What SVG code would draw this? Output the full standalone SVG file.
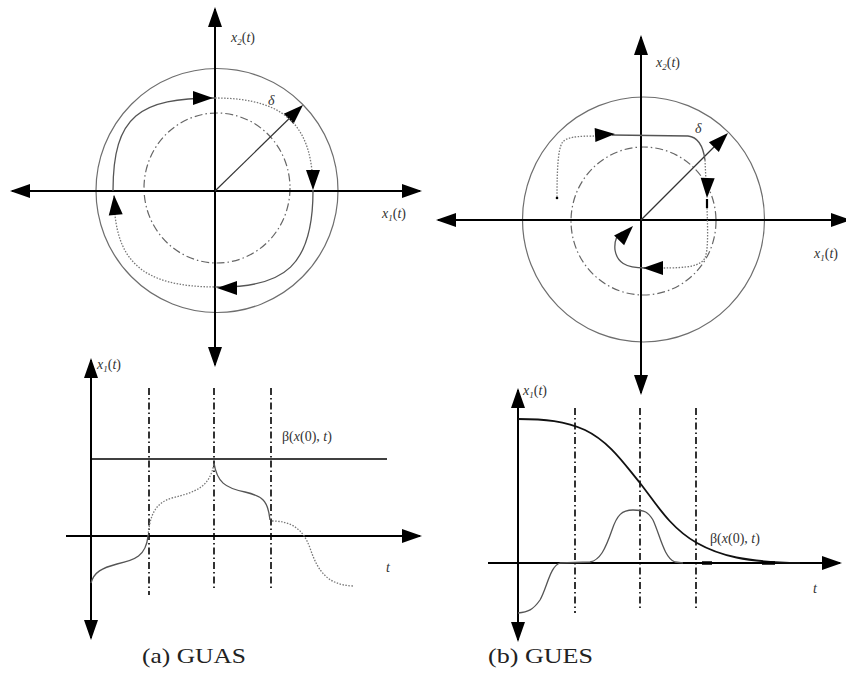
<svg xmlns="http://www.w3.org/2000/svg" width="846" height="694" viewBox="0 0 846 694">
<defs>
<marker id="ax" viewBox="0 0 20 14" refX="18" refY="7" markerWidth="20" markerHeight="14" markerUnits="userSpaceOnUse" orient="auto-start-reverse"><path d="M0,0 L20,7 L0,14 Z" fill="#000"/></marker>
<path id="ah" d="M0,0 L-20,-7 L-20,7 Z" fill="#000"/>
</defs>
<style>
.axis{stroke:#000;stroke-width:2;fill:none}
.circ{stroke:#6e6e6e;stroke-width:1.2;fill:none}
.dd{stroke:#666;stroke-width:1.2;fill:none;stroke-dasharray:8 3 1.5 3}
.vdd{stroke:#000;stroke-width:1.6;fill:none;stroke-dasharray:7 3 1.5 3}
.sol{stroke:#555;stroke-width:1.3;fill:none}
.dot{stroke:#777;stroke-width:1.3;fill:none;stroke-dasharray:1.5 1.5}
.rad{stroke:#333;stroke-width:1.2;fill:none}
.m{font-style:italic;font-size:14px;fill:#333}
.cap{font-size:21px;fill:#222}
</style>
<rect width="846" height="694" fill="#fff"/>

<g id="phase-a">
<ellipse class="circ" cx="217" cy="190.5" rx="121" ry="122"/>
<ellipse class="dd" cx="217" cy="188" rx="73" ry="75"/>
<line class="axis" x1="215" y1="365" x2="215" y2="9" marker-start="url(#ax)" marker-end="url(#ax)"/>
<line class="axis" x1="12" y1="191" x2="420" y2="191" marker-start="url(#ax)" marker-end="url(#ax)"/>
<line class="rad" x1="215" y1="191" x2="300" y2="108"/>
<use href="#ah" transform="translate(303,105) rotate(-44)"/>
<path class="sol" d="M113,191 C113,115 140,98 215,98"/>
<path class="dot" d="M215,98 C290,98 313,130 313,191"/>
<path class="sol" d="M313,191 C313,265 285,288 217,287"/>
<path class="dot" d="M217,287 C140,287 114,260 114,195"/>
<use href="#ah" transform="translate(213,98)"/>
<use href="#ah" transform="translate(313,190) rotate(90)"/>
<use href="#ah" transform="translate(217,288) rotate(180)"/>
<use href="#ah" transform="translate(114,195) rotate(-95)"/>
<text class="m" font-family="'Liberation Serif','DejaVu Serif',serif" x="231" y="42">x<tspan font-size="9" dy="3">2</tspan><tspan dy="-3" font-style="normal">(</tspan>t<tspan font-style="normal">)</tspan></text>
<text class="m" font-family="'Liberation Serif','DejaVu Serif',serif" x="382" y="218">x<tspan font-size="9" dy="3">1</tspan><tspan dy="-3" font-style="normal">(</tspan>t<tspan font-style="normal">)</tspan></text>
<text class="m" font-family="'Liberation Serif','DejaVu Serif',serif" x="268" y="105" font-style="normal">δ</text>
</g>

<g id="phase-b">
<ellipse class="circ" cx="643.5" cy="219.5" rx="121" ry="122.5"/>
<ellipse class="dd" cx="643.5" cy="221" rx="72.5" ry="74"/>
<line class="axis" x1="641" y1="393" x2="641" y2="37" marker-start="url(#ax)" marker-end="url(#ax)"/>
<line class="axis" x1="438" y1="220" x2="849" y2="220" marker-start="url(#ax)" marker-end="url(#ax)"/>
<line class="rad" x1="641" y1="220" x2="725" y2="136"/>
<use href="#ah" transform="translate(728,133) rotate(-45)"/>
<circle cx="557" cy="198" r="1.3" fill="#000"/>
<path class="dot" d="M557,197 C557,170 558,150 562,143 C566,137 575,136 600,136"/>
<path class="sol" d="M612,135 L688,136 C698,137 703,145 705,160"/>
<path class="dot" d="M705,160 L706,182"/>
<line x1="707" y1="199" x2="707" y2="208" stroke="#000" stroke-width="2.2"/>
<path class="dot" d="M707,208 C708,235 708,250 705,258 C700,266 690,268 660,268"/>
<path class="sol" d="M645,268 C625,268 617,262 615,250 C614,240 617,235 622,232"/>
<use href="#ah" transform="translate(615,134) rotate(-3)"/>
<use href="#ah" transform="translate(707,198) rotate(92)"/>
<use href="#ah" transform="translate(643,268) rotate(180)"/>
<use href="#ah" transform="translate(633,226) rotate(-46)"/>
<text class="m" font-family="'Liberation Serif','DejaVu Serif',serif" x="656" y="67">x<tspan font-size="9" dy="3">2</tspan><tspan dy="-3" font-style="normal">(</tspan>t<tspan font-style="normal">)</tspan></text>
<text class="m" font-family="'Liberation Serif','DejaVu Serif',serif" x="814" y="258">x<tspan font-size="9" dy="3">1</tspan><tspan dy="-3" font-style="normal">(</tspan>t<tspan font-style="normal">)</tspan></text>
<text class="m" font-family="'Liberation Serif','DejaVu Serif',serif" x="695" y="133" font-style="normal">δ</text>
</g>

<g id="time-a">
<line class="axis" x1="91" y1="638" x2="91" y2="360" marker-start="url(#ax)" marker-end="url(#ax)"/>
<line class="axis" x1="66" y1="536" x2="420" y2="536" marker-end="url(#ax)"/>
<line x1="91" y1="459" x2="387" y2="459" stroke="#000" stroke-width="1.5"/>
<line class="vdd" x1="149" y1="388" x2="149" y2="595"/>
<line class="vdd" x1="214" y1="388" x2="214" y2="588"/>
<line class="vdd" x1="271" y1="388" x2="271" y2="588"/>
<path class="sol" d="M91,583 C94,572 102,568 117,564 C135,560 146,556 148,536"/>
<path class="dot" d="M148,536 C150,515 155,503 172,498 C195,492 210,488 214,463"/>
<path class="sol" d="M214,463 C217,482 225,488 245,492 C262,496 268,500 270,520"/>
<path class="dot" d="M272,521 C290,521 303,528 310,548 C318,572 328,585 353,586"/>
<text class="m" font-family="'Liberation Serif','DejaVu Serif',serif" x="97" y="369">x<tspan font-size="9" dy="3">1</tspan><tspan dy="-3" font-style="normal">(</tspan>t<tspan font-style="normal">)</tspan></text>
<text class="m" font-family="'Liberation Serif','DejaVu Serif',serif" x="282" y="441"><tspan font-style="normal">β(</tspan>x<tspan font-style="normal">(0),</tspan> t<tspan font-style="normal">)</tspan></text>
<text class="m" font-family="'Liberation Serif','DejaVu Serif',serif" x="386" y="572">t</text>
</g>

<g id="time-b">
<line class="axis" x1="518" y1="640" x2="518" y2="390" marker-start="url(#ax)" marker-end="url(#ax)"/>
<line class="axis" x1="488" y1="563" x2="840" y2="563" marker-end="url(#ax)"/>
<line class="vdd" x1="575" y1="408" x2="575" y2="613"/>
<line class="vdd" x1="640" y1="408" x2="640" y2="608"/>
<line class="vdd" x1="696" y1="408" x2="696" y2="608"/>
<path d="M518,419 C545,419 565,421 585,430 C610,442 625,465 640,483 C655,502 670,528 697,543 C720,556 745,562 800,563" stroke="#111" stroke-width="1.8" fill="none"/>
<path class="sol" d="M518,613 C528,612 533,610 540,600 C547,588 550,566 560,563 L590,562 C600,560 605,550 612,530 C617,515 622,510 633,510 C645,510 648,512 653,520 C660,535 664,558 675,562 L683,563" stroke="#888" stroke-width="1.1"/>
<line x1="702" y1="563" x2="712" y2="563" stroke="#000" stroke-width="3.5"/>
<line x1="762" y1="563" x2="775" y2="563" stroke="#000" stroke-width="3.5"/>
<text class="m" font-family="'Liberation Serif','DejaVu Serif',serif" x="523" y="395">x<tspan font-size="9" dy="3">1</tspan><tspan dy="-3" font-style="normal">(</tspan>t<tspan font-style="normal">)</tspan></text>
<text class="m" font-family="'Liberation Serif','DejaVu Serif',serif" x="710" y="543"><tspan font-style="normal">β(</tspan>x<tspan font-style="normal">(0),</tspan> t<tspan font-style="normal">)</tspan></text>
<text class="m" font-family="'Liberation Serif','DejaVu Serif',serif" x="813" y="593">t</text>
</g>

<g id="captions">
<text class="cap" font-family="'Liberation Serif','DejaVu Serif',serif" x="142" y="663" textLength="104" lengthAdjust="spacingAndGlyphs">(a) GUAS</text>
<text class="cap" font-family="'Liberation Serif','DejaVu Serif',serif" x="488" y="663" textLength="105" lengthAdjust="spacingAndGlyphs">(b) GUES</text>
</g>
</svg>
